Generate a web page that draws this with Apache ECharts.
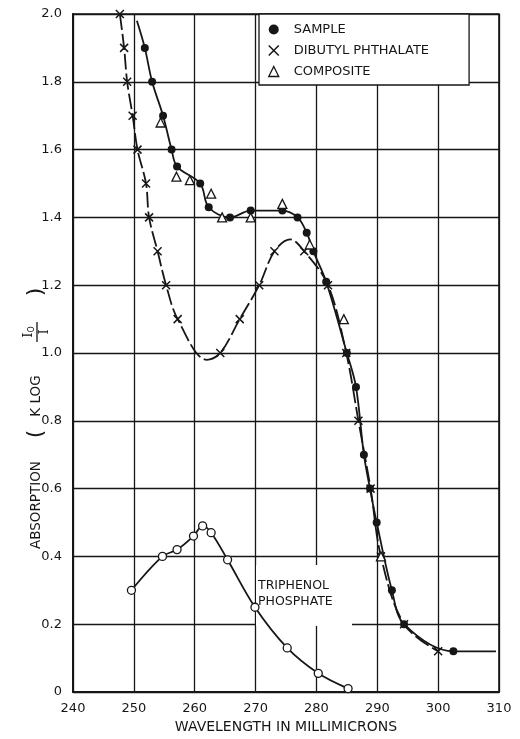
<!DOCTYPE html>
<html>
<head>
<meta charset="utf-8">
<script src="https://cdn.jsdelivr.net/npm/echarts/dist/echarts.min.js"></script>
<style>
  html, body { margin: 0; background: #fff; }
  #chart { width: 520px; height: 739px; }
</style>
</head>
<body>
<div id="chart"></div>
<script>
// values
const xTicks = [240, 250, 260, 270, 280, 290, 300, 310];

const sampleX = [251.8, 253.0, 254.8, 256.2, 257.1, 260.9, 262.3, 265.8, 269.2, 274.4, 276.9, 278.4, 279.5, 281.6, 285.0, 286.5, 287.8, 288.8, 289.9, 292.4, 294.4, 302.5];
const sampleY = [1.90, 1.80, 1.70, 1.60, 1.55, 1.50, 1.43, 1.40, 1.42, 1.42, 1.40, 1.355, 1.30, 1.21, 1.00, 0.90, 0.70, 0.60, 0.50, 0.30, 0.20, 0.12];
// where the drawn curve runs past the first / last measured point
const sampleEndsX = [250.5, 309.5];
const sampleEndsY = [1.98, 0.12];

const dibutylX = [247.7, 248.4, 248.9, 249.8, 250.6, 252.0, 252.5, 253.9, 255.3, 257.2, 264.2, 267.4, 270.6, 273.1, 278.0, 281.9, 284.9, 286.9, 288.9, 290.6, 294.4, 300.0];
const dibutylY = [2.00, 1.90, 1.80, 1.70, 1.60, 1.50, 1.40, 1.30, 1.20, 1.10, 1.00, 1.10, 1.20, 1.30, 1.30, 1.20, 1.00, 0.80, 0.60, 0.40, 0.20, 0.12];
// bottom of the dip and top of the hump of the drawn curve
const dibutylBendX = [262.0, 275.7];
const dibutylBendY = [0.98, 1.335];

const compositeX = [254.4, 257.0, 259.2, 262.7, 264.5, 269.2, 274.4, 278.9, 284.5, 290.6];
const compositeY = [1.68, 1.52, 1.51, 1.47, 1.40, 1.40, 1.44, 1.32, 1.10, 0.40];

const triphenolX = [249.6, 254.7, 257.1, 259.8, 261.3, 262.7, 265.4, 269.9, 275.2, 280.3, 285.2];
const triphenolY = [0.30, 0.40, 0.42, 0.46, 0.49, 0.47, 0.39, 0.25, 0.13, 0.055, 0.01];

const names = ['SAMPLE', 'DIBUTYL PHTHALATE', 'COMPOSITE'];
const tppLabel = ['TRIPHENOL', 'PHOSPHATE'];

const ink = '#161616';
const font = 'DejaVu Sans';
const crossPath = 'path://M0,0L10,10M10,0L0,10';

function pairs(xs, ys) {
  return xs.map((x, i) => [x, ys[i]]);
}
// measured points get a marker, extra curve points do not
function withBare(xs, ys, bx, by) {
  const pts = pairs(xs, ys).map(p => ({ value: p }));
  pairs(bx, by).forEach(p => pts.push({ value: p, symbol: 'none' }));
  return pts.sort((a, b) => a.value[0] - b.value[0]);
}

const myChart = echarts.init(document.getElementById('chart'));

const option = {
  animation: false,
  backgroundColor: '#fff',
  textStyle: { fontFamily: font, color: ink },
  grid: {
    left: 73, right: 21, top: 14, bottom: 40,
    show: true, borderColor: ink, borderWidth: 1.6, backgroundColor: 'transparent'
  },
  legend: {
    orient: 'vertical',
    left: 259, top: 14,
    padding: [9, 40, 7, 9],
    itemGap: 8,
    itemWidth: 10, itemHeight: 10,
    backgroundColor: '#fff',
    borderColor: ink, borderWidth: 1.3, borderRadius: 0,
    textStyle: { fontFamily: font, fontSize: 13, color: ink, padding: [0, 0, 0, 10] },
    data: [
      { name: names[0], icon: 'circle', itemStyle: { color: ink, borderWidth: 0 } },
      { name: names[1], icon: crossPath, itemStyle: { color: 'transparent', borderColor: ink, borderWidth: 1.5 } },
      { name: names[2], icon: 'triangle', itemStyle: { color: '#fff', borderColor: ink, borderWidth: 1.3 } }
    ]
  },
  xAxis: {
    type: 'value',
    min: xTicks[0], max: xTicks[xTicks.length - 1], interval: 10,
    name: 'WAVELENGTH IN MILLIMICRONS',
    nameLocation: 'middle', nameGap: 28,
    nameTextStyle: { fontFamily: font, fontSize: 14, color: ink },
    axisLine: { lineStyle: { color: ink, width: 2 } },
    axisTick: { show: false },
    axisLabel: { fontFamily: font, fontSize: 13, color: ink, margin: 10 },
    splitLine: { lineStyle: { color: ink, width: 1.3 } }
  },
  yAxis: {
    type: 'value',
    min: 0, max: 2, interval: 0.2,
    axisLine: { show: true, lineStyle: { color: ink, width: 2 } },
    axisTick: { show: false },
    axisLabel: {
      fontFamily: font, fontSize: 13, color: ink, margin: 11,
      formatter: v => (v === 0 ? '0' : v.toFixed(1))
    },
    splitLine: { lineStyle: { color: ink, width: 1.3 } }
  },
  graphic: [
    // y axis title, set on its side like the original lettering
    { type: 'text', x: 36, y: 505, rotation: Math.PI / 2,
      style: { text: 'ABSORPTION', x: 0, y: 0, align: 'center', verticalAlign: 'middle', font: '13.5px ' + font, fill: ink } },
    { type: 'text', x: 36, y: 434, rotation: Math.PI / 2,
      style: { text: '(', x: 0, y: 0, align: 'center', verticalAlign: 'middle', font: '22px ' + font, fill: ink } },
    { type: 'text', x: 36, y: 396, rotation: Math.PI / 2,
      style: { text: 'K LOG', x: 0, y: 0, align: 'center', verticalAlign: 'middle', font: '13.5px ' + font, fill: ink } },
    { type: 'text', x: 29, y: 332, rotation: Math.PI / 2,
      style: {
        text: '{a|I}{b|O}', x: 0, y: 0, align: 'center', verticalAlign: 'middle',
        rich: {
          a: { fontFamily: 'DejaVu Serif', fontSize: 13, color: ink },
          b: { fontFamily: font, fontSize: 8, color: ink, padding: [5, 0, 0, 0] }
        }
      } },
    { type: 'line', shape: { x1: 37, y1: 342, x2: 37, y2: 322 }, style: { stroke: ink, lineWidth: 1.3 } },
    { type: 'text', x: 45, y: 332, rotation: Math.PI / 2,
      style: { text: 'I', x: 0, y: 0, align: 'center', verticalAlign: 'middle', font: '13px DejaVu Serif', fill: ink } },
    { type: 'text', x: 36, y: 292, rotation: Math.PI / 2,
      style: { text: ')', x: 0, y: 0, align: 'center', verticalAlign: 'middle', font: '22px ' + font, fill: ink } },
    // label of the lower curve, on a white patch between two grid lines
    { type: 'rect', z: 1, shape: { x: 256, y: 565, width: 96, height: 61 }, style: { fill: '#fff' } },
    { type: 'text', z: 3, x: 258, y: 586,
      style: { text: tppLabel[0], x: 0, y: 0, verticalAlign: 'middle', font: '12.5px ' + font, fill: ink } },
    { type: 'text', z: 3, x: 258, y: 602,
      style: { text: tppLabel[1], x: 0, y: 0, verticalAlign: 'middle', font: '12.5px ' + font, fill: ink } }
  ],
  series: [
    {
      name: 'TRIPHENOL PHOSPHATE',
      type: 'line',
      data: pairs(triphenolX, triphenolY),
      smooth: 0.35,
      symbol: 'circle', symbolSize: 8,
      lineStyle: { color: ink, width: 1.8 },
      itemStyle: { color: '#fff', borderColor: ink, borderWidth: 1.3 },
      z: 3
    },
    {
      name: names[1],
      type: 'line',
      data: withBare(dibutylX, dibutylY, dibutylBendX, dibutylBendY),
      smooth: 0.35,
      symbol: crossPath, symbolSize: 8,
      lineStyle: { color: ink, width: 1.8, type: [16, 4] },
      itemStyle: { color: 'transparent', borderColor: ink, borderWidth: 1.5 },
      z: 4
    },
    {
      name: names[0],
      type: 'line',
      data: withBare(sampleX, sampleY, sampleEndsX, sampleEndsY),
      smooth: 0.35,
      symbol: 'circle', symbolSize: 8,
      lineStyle: { color: ink, width: 1.8 },
      itemStyle: { color: ink, borderWidth: 0 },
      z: 5
    },
    {
      name: names[2],
      type: 'scatter',
      data: pairs(compositeX, compositeY),
      symbol: 'triangle', symbolSize: 9,
      itemStyle: { color: '#fff', borderColor: ink, borderWidth: 1.3, opacity: 1 },
      z: 6
    }
  ]
};

myChart.setOption(option);
</script>
</body>
</html>
